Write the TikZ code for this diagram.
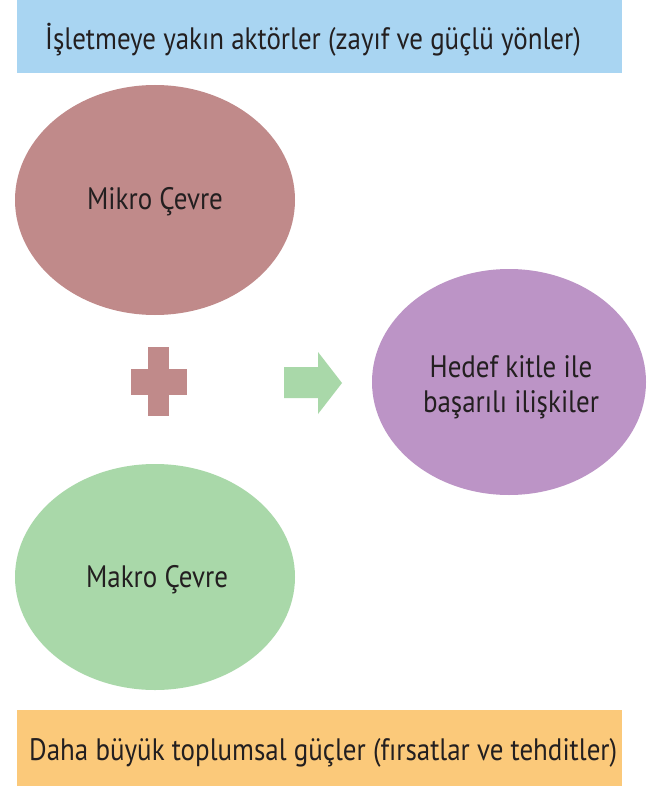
\documentclass[tikz,border=0pt]{standalone}
\usepackage{fontspec}
\setmainfont{PT Sans}[FakeStretch=0.87]
\usetikzlibrary{shapes.geometric}
\definecolor{topblue}{HTML}{A9D5F2}
\definecolor{botorange}{HTML}{FBC97A}
\definecolor{rose}{HTML}{C08A8A}
\definecolor{mint}{HTML}{A9D8A9}
\definecolor{lilac}{HTML}{BC94C6}
\definecolor{ink}{HTML}{231F20}
\tikzset{
  bubble/.style={text=ink, font=\fontsize{31}{35}\selectfont, align=center, inner sep=0pt, anchor=base},
  barlabel/.style={text=ink, font=\fontsize{31}{35}\selectfont, anchor=base west, inner sep=0pt},
}
\begin{document}
\begin{tikzpicture}[x=1pt,y=-1pt]
\useasboundingbox (0,0) rectangle (650,786);
\fill[white] (0,0) rectangle (650,786);
% bars
\fill[topblue] (17,0) rectangle (622,73);
\node[barlabel] (top) at (45,50) {İşletmeye yakın aktörler (zayıf ve güçlü yönler)};
\fill[botorange] (17,710) rectangle (622,786);
\node[barlabel] (bot) at (29,760) {Daha büyük toplumsal güçler (fırsatlar ve tehditler)};
% ellipses
\fill[rose] (155,200) ellipse [x radius=140, y radius=115];
\node[bubble] (mikro) at (155,210) {Mikro Çevre};
\fill[mint] (155,577) ellipse [x radius=140, y radius=113];
\node[bubble] (makro) at (157,587) {Makro Çevre};
\fill[lilac] (509,382) ellipse [x radius=137, y radius=113];
\node[bubble] (hedef) at (511,412) {Hedef kitle ile\\başarılı ilişkiler};
% plus
\fill[rose] (148,347) rectangle (169,416);
\fill[rose] (131,369) rectangle (187,395);
% arrow
\fill[mint] (284,367) -- (318,367) -- (318,352) -- (342,383) -- (318,414) -- (318,398) -- (284,398) -- cycle;
\end{tikzpicture}
\end{document}
